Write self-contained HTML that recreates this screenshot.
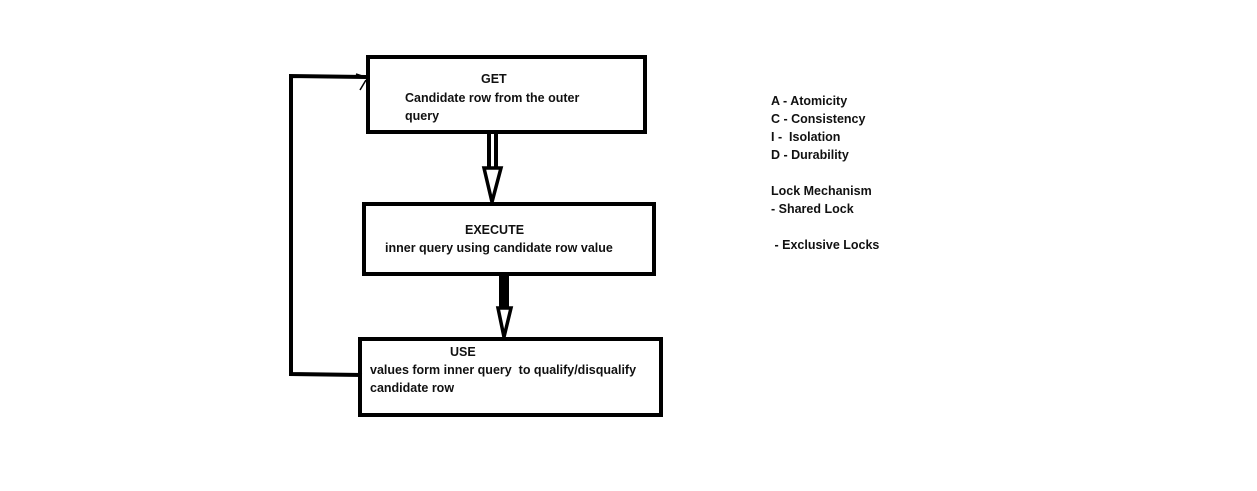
<!DOCTYPE html>
<html><head><style>
body{margin:0;background:#fff;width:1257px;height:491px;overflow:hidden;position:relative;font-family:"Liberation Sans",sans-serif;font-weight:bold;font-size:12.5px;color:#111}
.t{position:absolute;white-space:pre;line-height:18px}
</style></head><body>
<svg width="1257" height="491" style="position:absolute;left:0;top:0">
<g fill="none" stroke="#000" stroke-width="4">
<rect x="368" y="57" width="277" height="75"/>
<rect x="364" y="204" width="290" height="70"/>
<rect x="360" y="339" width="301" height="76"/>
<polyline points="366,77 291,76 291,374 362,375"/>
</g>
<g stroke="#000" stroke-width="1.5" fill="none">
<line x1="356" y1="74" x2="362" y2="76"/><line x1="360" y1="90" x2="366" y2="80"/>
</g>
<rect x="487" y="134" width="4" height="36" fill="#000"/>
<rect x="494" y="134" width="4" height="36" fill="#000"/>
<polygon points="484,168 501,168 492,202" fill="#fff" stroke="#000" stroke-width="3.5"/>
<rect x="499" y="276" width="10" height="32" fill="#000"/>
<polygon points="498,308 511,308 504,337" fill="#fff" stroke="#000" stroke-width="3.5"/>
</svg>
<div class="t" style="left:481px;top:70px">GET</div>
<div class="t" style="left:405px;top:89px">Candidate row from the outer
query</div>
<div class="t" style="left:465px;top:221px">EXECUTE</div>
<div class="t" style="left:385px;top:239px">inner query using candidate row value</div>
<div class="t" style="left:450px;top:343px">USE</div>
<div class="t" style="left:370px;top:361px">values form inner query  to qualify/disqualify
candidate row</div>
<div class="t" style="left:771px;top:92px">A - Atomicity
C - Consistency
I -  Isolation
D - Durability

Lock Mechanism
- Shared Lock

 - Exclusive Locks</div>
</body></html>
